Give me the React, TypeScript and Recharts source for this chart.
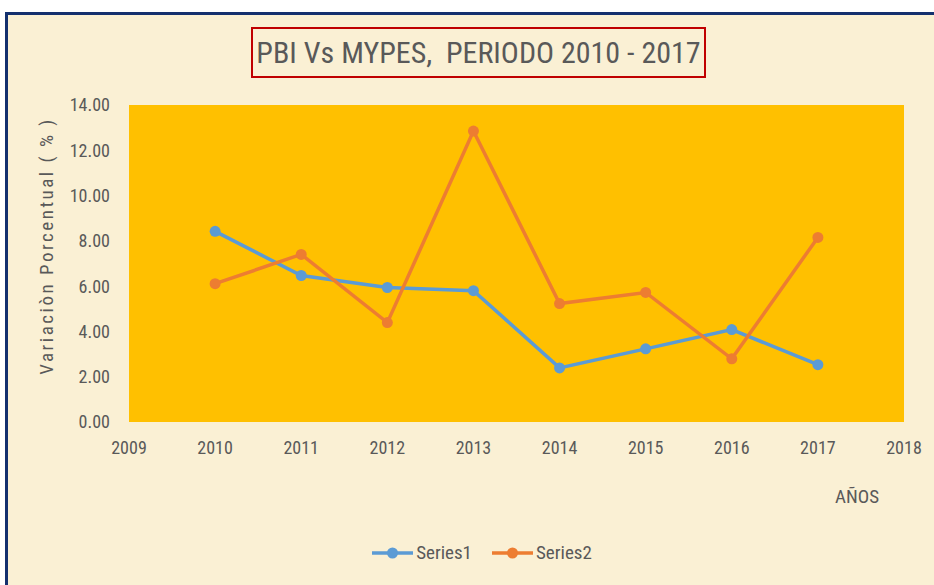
import React from "react";
import {
  LineChart,
  Line,
  XAxis,
  YAxis,
  CartesianGrid,
  Legend,
} from "recharts";

const years = [2010, 2011, 2012, 2013, 2014, 2015, 2016, 2017];
const series1 = [8.42, 6.47, 5.94, 5.8, 2.39, 3.23, 4.08, 2.53];
const series2 = [6.11, 7.4, 4.39, 12.85, 5.23, 5.72, 2.79, 8.15];
const xTicks = [2009, 2010, 2011, 2012, 2013, 2014, 2015, 2016, 2017, 2018];
const yTicks = [0, 2, 4, 6, 8, 10, 12, 14];

const data = years.map((year, i) => ({
  year,
  Series1: series1[i],
  Series2: series2[i],
}));

const FONT = "'Liberation Sans Narrow', 'Arial Narrow', 'Roboto Condensed', 'Open Sans', sans-serif";
const TEXT = "#595959";
const BLUE = "#5B9BD5";
const ORANGE = "#ED7D31";

const LegendContent = () => (
  <div
    style={{
      display: "flex",
      justifyContent: "center",
      gap: 20,
      fontFamily: FONT,
      fontSize: 19,
      color: TEXT,
      paddingLeft: 30,
    }}
  >
    {[
      { name: "Series1", color: BLUE },
      { name: "Series2", color: ORANGE },
    ].map((s) => (
      <div key={s.name} style={{ display: "flex", alignItems: "center" }}>
        <svg width={41} height={14} style={{ marginRight: 3 }}>
          <line x1={0} y1={7} x2={41} y2={7} stroke={s.color} strokeWidth={3.5} />
          <circle cx={20.5} cy={7} r={5.5} fill={s.color} />
        </svg>
        <span>{s.name}</span>
      </div>
    ))}
  </div>
);

export default function App() {
  return (
    <div
      style={{
        position: "absolute",
        left: 0,
        top: 0,
        width: 934,
        height: 585,
        background: "#ffffff",
        overflow: "hidden",
      }}
    >
      <div
        style={{
          position: "absolute",
          left: 5,
          top: 12,
          width: 940,
          height: 590,
          boxSizing: "border-box",
          borderLeft: "3px solid #14306e",
          borderTop: "3px solid #14306e",
          background: "#FAF0D4",
        }}
      />
      <div
        style={{
          position: "absolute",
          left: 251,
          top: 27,
          width: 455,
          height: 51,
          boxSizing: "border-box",
          border: "2px solid #C00000",
          display: "flex",
          alignItems: "center",
          justifyContent: "center",
          fontFamily: FONT,
          fontSize: 30,
          color: TEXT,
          whiteSpace: "pre",
        }}
      >
        {"PBI Vs MYPES,  PERIODO 2010 - 2017"}
      </div>
      <div
        style={{
          position: "absolute",
          left: 46,
          top: 246,
          transform: "translate(-50%, -50%) rotate(-90deg)",
          fontFamily: FONT,
          fontSize: 19,
          letterSpacing: 2.5,
          color: TEXT,
          whiteSpace: "nowrap",
        }}
      >
        Variaciòn Porcentual ( % )
      </div>
      <div
        style={{
          position: "absolute",
          left: 835,
          top: 485,
          fontFamily: FONT,
          fontSize: 19,
          color: TEXT,
        }}
      >
        AÑOS
      </div>
      <div style={{ position: "absolute", left: 0, top: 0 }}>
        <LineChart
          width={934}
          height={585}
          data={data}
          margin={{ top: 105, right: 30, bottom: 0, left: 0 }}
          style={{ fontFamily: FONT }}
        >
          <CartesianGrid
            horizontal={false}
            vertical={false}
            fill="#FFC000"
            stroke="none"
          />
          <XAxis
            dataKey="year"
            type="number"
            domain={[2009, 2018]}
            ticks={xTicks}
            axisLine={false}
            tickLine={false}
            tickMargin={13}
            height={140}
            tick={{ fill: TEXT, fontSize: 18 }}
          />
          <YAxis
            type="number"
            domain={[0, 14]}
            ticks={yTicks}
            width={129}
            axisLine={false}
            tickLine={false}
            tickMargin={13}
            tickFormatter={(v: number) => v.toFixed(2)}
            tick={{ fill: TEXT, fontSize: 18 }}
          />
          <Legend
            verticalAlign="bottom"
            content={<LegendContent />}
            wrapperStyle={{ top: 541, left: 0, width: 934 }}
          />
          <Line
            dataKey="Series1"
            stroke={BLUE}
            strokeWidth={3.5}
            dot={{ r: 5.5, fill: BLUE, stroke: "none" }}
            activeDot={false}
            isAnimationActive={false}
          />
          <Line
            dataKey="Series2"
            stroke={ORANGE}
            strokeWidth={3.5}
            dot={{ r: 5.5, fill: ORANGE, stroke: "none" }}
            activeDot={false}
            isAnimationActive={false}
          />
        </LineChart>
      </div>
    </div>
  );
}
